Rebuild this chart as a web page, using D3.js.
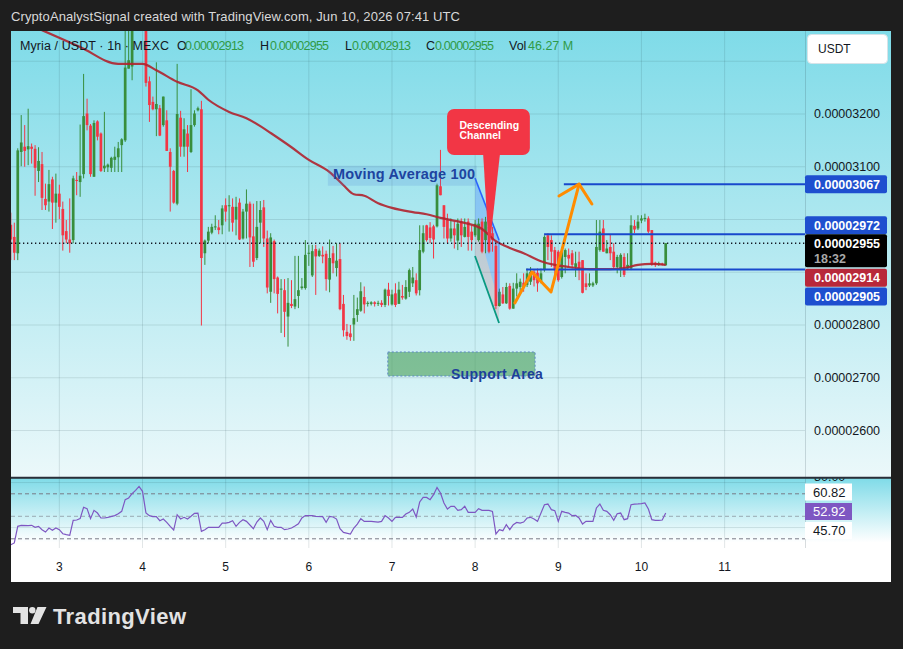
<!DOCTYPE html>
<html><head><meta charset="utf-8">
<script src="https://cdn.jsdelivr.net/npm/d3@7"></script>
<style>html,body{margin:0;padding:0;background:#1e1e1e;overflow:hidden}</style>
</head><body>
<svg id="c" width="903" height="649"></svg>
<script>
// ---------- DATA (prices in units of 1e-8 USDT) ----------
const UNIT = 1e-8;
const startTime = "2026-06-02T10:00:00Z"; // first hourly candle
const opens = [2990,2967,2936,3128,3138,3133,3138,3134,3092,3105, 3039,3034,3076,3032,3049,3020,2978,2962,2961,3075,
 3071,3086,3201,3178,3081,3186,3163,3097,3099,3098, 3113,3118,3141,3150,3286,3290,3370,3405,3392,3378,
 3262,3223,3209,3211,3179,3188,3128,3092,3030,3193, 3138,3163,3128,3179,3207,3209,2936,2960,2975,2985,
 2985,2989,3027,3026,3024,3000,3032,2964,3015,3030, 2968,2927,2994,3023,2964,2863,2959,2890,2867,2866,
 2816,2840,2835,2855,2870,2870,2935,2894,2944,2931, 2933,2935,2886,2936,2908,2925,2840,2787,2784,2801,
 2819,2827,2853,2840,2840,2843,2840,2842,2838,2867, 2839,2860,2840,2855,2850,2863,2879,2885,2866,2939,
 2989,2985,2987,2987,3063,3027,2999,2964,2983,2960, 2996,2967,2996,2977,2970,2961,2996,2961,2986,2974,
 2950,2836,2858,2841,2874,2831,2869,2872,2880,2876, 2882,2901,2899,2882,2904,2970,2961,2942,2939,2891,
 2929,2933,2936,2910,2920,2923,2879,2875,2875,2879, 2942,2983,2936,2948,2939,2910,2904,2929,2907,2907,
 2988,2983,2998,3001,3002,2980,2918,2914,2916,2913];
const highs = [3013,2994,3135,3198,3179,3210,3144,3141,3137,3128, 3068,3094,3081,3087,3066,3034,2999,3040,3083,3090,
 3180,3276,3229,3181,3188,3188,3165,3204,3106,3119, 3138,3147,3154,3370,3380,3395,3425,3440,3415,3385,
 3271,3233,3298,3217,3233,3207,3135,3094,3295,3206, 3192,3179,3247,3207,3214,3225,2962,2986,2992,3008,
 2999,3027,3040,3046,3040,3043,3040,3020,3057,3034, 3030,3035,3035,3037,2979,2974,2962,2892,2887,2887,
 2889,2885,2931,2931,2889,2961,2952,2952,2952,2945, 2949,2941,2962,2950,2955,2955,2857,2802,2800,2857,
 2852,2881,2873,2845,2845,2845,2846,2847,2869,2880, 2867,2879,2882,2876,2885,2907,2910,2898,2989,2989,
 2990,2995,2990,3068,3132,3027,3011,3002,2996,3002, 3002,3002,3002,2989,2999,3002,3002,3005,2996,2986,
 2958,2869,2872,2880,2879,2880,2898,2888,2898,2907, 2910,2904,2907,2907,2970,2974,2970,2948,2942,2948,
 2945,2945,2942,2939,2939,2923,2898,2898,2882,2999, 2999,2999,2961,2971,2955,2933,2936,2936,2936,3008,
 2999,3008,3008,3011,3006,2980,2920,2920,2918,2955];
const lows = [2923,2923,2923,3101,3100,3103,3106,3045,3071,3018, 3018,3015,2982,2994,3001,2941,2955,2937,2955,3046,
 3043,3078,3169,3081,3081,3150,3090,3090,3090,3090, 3090,3090,3090,3147,3286,3264,3362,3380,3370,3252,
 3185,3207,3158,3158,3176,3130,3015,3030,3027,3119, 3119,3090,3126,3176,3205,2799,2914,2955,2972,2980,
 2972,2972,2996,2977,2977,2970,2961,2962,2964,2910, 2910,2923,2955,2948,2860,2842,2860,2822,2785,2777,
 2759,2832,2830,2832,2867,2867,2912,2891,2857,2929, 2917,2865,2862,2898,2892,2828,2778,2772,2770,2770,
 2806,2825,2822,2835,2837,2835,2836,2834,2834,2837, 2837,2834,2840,2848,2848,2853,2872,2856,2856,2936,
 2958,2955,2926,2985,3046,2964,2955,2958,2945,2942, 2948,2966,2941,2941,2967,2958,2936,2936,2936,2939,
 2830,2835,2840,2840,2829,2831,2854,2863,2863,2872, 2876,2873,2863,2879,2901,2923,2910,2885,2882,2888,
 2898,2910,2907,2891,2885,2860,2866,2872,2872,2876, 2939,2939,2936,2923,2904,2898,2891,2891,2904,2904,
 2974,2980,2993,2996,2974,2912,2910,2912,2913,2913];
const closes = [2962,2937,3131,3146,3130,3139,3134,3098,3111,3041, 3027,3067,3032,3049,3024,2970,2962,2955,3078,3073,
 3083,3196,3179,3086,3183,3157,3092,3102,3104,3117, 3119,3135,3152,3288,3302,3370,3405,3392,3378,3259,
 3217,3209,3219,3159,3233,3130,3100,3032,3200,3138, 3171,3138,3179,3201,3211,2927,2960,2977,2986,2987,
 2980,3021,3015,3027,2994,3024,2962,3015,3030,2966, 2920,2986,3018,2964,2871,2966,2887,2859,2869,2825,
 2842,2836,2849,2866,2873,2933,2937,2940,2930,2941, 2930,2887,2927,2917,2922,2830,2790,2779,2777,2813,
 2830,2864,2839,2842,2843,2840,2842,2838,2867,2855, 2858,2838,2867,2852,2872,2904,2890,2860,2942,2974,
 2961,2965,2962,3065,3046,2986,2964,2983,2970,2992, 2970,2986,2967,2961,2992,2992,2939,2996,2939,2961,
 2836,2863,2841,2872,2831,2869,2879,2882,2872,2898, 2901,2885,2879,2898,2967,2948,2939,2904,2885,2939,
 2942,2926,2914,2917,2904,2861,2872,2879,2879,2948, 2977,2939,2945,2936,2910,2929,2933,2895,2914,2989,
 2981,2996,3002,3003,2977,2914,2914,2917,2914,2955];
// Moving average 100 (candle index, value)
const maIdx = [0,9,20,31,38,42,48,54,57,63,68,72,75,81,86,92,96,99,102,106,110,116,120,124,130,136,140,144,148,153,157,161,167,173,177,181,185,189];
const maVal = [3385,3359,3327,3295,3295,3283,3261,3245,3227,3204,3192,3177,3164,3137,3113,3090,3065,3048,3045,3031,3022,3014,3010,3003,2995,2982,2959,2946,2936,2921,2914,2910,2906,2906,2908,2914,2916,2914];
// RSI (candle index, value)
const rsiIdx = [0,1,2,3,5,6,7,8,9,10,11,12,13,14,15,16,17,18,19,20,21,22,23,24,25,26,27,28,30,31,32,33,34,35,36,37,38,39,40,41,42,43,44,45,46,47,48,49,50,51,52,53,54,55,56,57,58,60,61,62,63,64,65,66,67,68,70,71,72,73,74,75,76,77,78,79,80,81,82,83,84,85,86,87,88,90,91,92,93,94,95,96,98,99,100,101,102,104,106,107,108,109,110,111,113,114,115,116,117,118,119,120,121,122,123,124,125,126,127,128,129,130,131,132,134,135,136,138,139,140,141,142,143,144,145,146,147,148,149,150,151,152,154,155,156,157,158,159,160,161,162,163,164,165,166,167,168,169,170,171,172,173,174,175,176,177,178,179,180,181,182,183,184,185,186,187,188,189];
const rsiVal = [24.8,26.3,41.1,42,41.7,42,40.2,41.1,38.1,36,39.6,37.5,39.6,38.1,34.5,33.7,33.1,46.4,46.7,47.9,58,56.8,47.9,55.3,52.9,48.5,48.5,49.1,50.6,52.3,54.4,64.8,66.3,70.1,73.1,76.6,72.2,52.9,50.6,49.7,49.7,46.1,47.6,44.6,41.1,37.8,51.4,47.6,49.1,47.6,50,52.6,52.9,36.6,38.1,40.2,40.2,40.2,44,44,44.6,46.1,41.1,44.6,47,45.5,39,44.9,48.5,45.5,38.1,46.4,41.1,40.2,40.2,38.1,38.7,39.6,41.4,43.4,48.5,50.6,50.6,50.6,50,49.7,44.6,50,49.4,47.5,39,35.7,34.3,39.6,43.1,47.9,45.5,45.5,44.9,45.5,50.6,48.5,45.5,49.1,49.1,52,53.5,56.5,49.4,62.7,66.8,66.8,64.8,69.2,75.7,70.7,61.8,56.5,58.9,58.9,55.3,55.9,58.9,53.5,53.5,56.8,55.3,55.3,54.4,34.3,38.1,37.2,42.6,38.1,42.6,44.6,44,44.9,48.5,49.1,47.6,45.5,60.3,60.9,55.9,55,45.5,54.4,53.5,52.9,50.6,50.8,48.5,43.1,45.5,45.5,45.5,57.4,60.9,55.3,54.4,51.4,46.4,52.3,52.9,47,47.9,60.3,60.9,61,61.2,61.8,56.5,47,46.4,46.4,46.7,52.92];
const priceTicks = [3300,3200,3100,3000,2900,2800,2700,2600];
const dayTicks = [3,4,5,6,7,8,9,10,11];
const rsiBands = [70,50,30];
const rsiGrid = [80,40];
const levelValues = [3067,2972,2905];
const levelStartIdx = [159.6,153.9,148.7];
const maLast = 2914;
const rsiLabels = [{v:"60.82",kind:"w"},{v:"52.92",kind:"p"},{v:"45.70",kind:"w"}];
const volume = "46.27";

// ---------- LAYOUT ----------
const svg = d3.select('#c');
const FONT = "'Liberation Sans', Arial, sans-serif";
const PL=11, PR=805, AR=891, PT=31, PB=477, RT=478.5, RB=548, TB=582;
const HOUR = 3600e3;
const t0 = Date.parse(startTime);
const N = closes.length;
const tOf = i => new Date(t0 + i*HOUR);
const xs = d3.scaleUtc().domain([tOf(0), tOf(N-1)]).range([10.835, 665.7]);
const xi = i => xs(tOf(i));
const yp = d3.scaleLinear().domain([3200,2600]).range([114,430.5]);
const yr = d3.scaleLinear().domain([70,30]).range([493.8,538.8]);
const fmtP = v => (v*UNIT).toFixed(8);

svg.append('rect').attr('width',903).attr('height',649).attr('fill','#1e1e1e');
const defs = svg.append('defs');
function grad(id, stops){ const g=defs.append('linearGradient').attr('id',id).attr('x1',0).attr('y1',0).attr('x2',0).attr('y2',1);
  stops.forEach(s=>g.append('stop').attr('offset',s[0]).attr('stop-color',s[1])); }
grad('gMain',[['0%','#7fdbe8'],['100%','#ebf8fa']]);
grad('gRsi',[['0%','#80dbe8'],['92%','#ffffff'],['100%','#ffffff']]);
defs.append('clipPath').attr('id','cpMain').append('rect').attr('x',PL).attr('y',PT).attr('width',PR-PL).attr('height',PB-PT);
defs.append('clipPath').attr('id','cpRsi').append('rect').attr('x',PL).attr('y',RT).attr('width',PR-PL).attr('height',RB-RT);
defs.append('clipPath').attr('id','cpRsiAx').append('rect').attr('x',PR).attr('y',RT).attr('width',AR-PR).attr('height',RB-RT);

svg.append('rect').attr('x',PL).attr('y',PT).attr('width',AR-PL).attr('height',PB-PT).attr('fill','url(#gMain)');
svg.append('rect').attr('x',PL).attr('y',RT).attr('width',AR-PL).attr('height',RB-RT).attr('fill','url(#gRsi)');
svg.append('rect').attr('x',PL).attr('y',RB).attr('width',AR-PL).attr('height',TB-RB).attr('fill','#ffffff');

// grid
const gridC = 'rgba(30,60,70,0.13)';
const gMain = svg.append('g').attr('clip-path','url(#cpMain)');
const dayDates = dayTicks.map(d=>new Date(Date.UTC(2026,5,d)));
gMain.selectAll('.vg').data(dayDates).join('line').attr('x1',d=>xs(d)).attr('x2',d=>xs(d)).attr('y1',PT).attr('y2',PB).attr('stroke',gridC);
gMain.selectAll('.hg').data(priceTicks).join('line').attr('x1',PL).attr('x2',PR).attr('y1',d=>yp(d)).attr('y2',d=>yp(d)).attr('stroke',gridC);
const gR = svg.append('g').attr('clip-path','url(#cpRsi)');
gR.selectAll('.vg').data(dayDates).join('line').attr('x1',d=>xs(d)).attr('x2',d=>xs(d)).attr('y1',RT).attr('y2',RB).attr('stroke',gridC);
gR.selectAll('.hg').data(rsiGrid).join('line').attr('x1',PL).attr('x2',PR).attr('y1',d=>yr(d)).attr('y2',d=>yr(d)).attr('stroke',gridC);

// ---------- annotations under candles ----------
const xI = i => xi(i);
const sa = {i0:108.8, i1:151.3, p0:2748.8, p1:2703.3};
gMain.append('rect').attr('x',xI(sa.i0)).attr('y',yp(sa.p0)).attr('width',xI(sa.i1)-xI(sa.i0)).attr('height',yp(sa.p1)-yp(sa.p0))
  .attr('fill','rgba(76,160,90,0.62)').attr('stroke','#5b86c6').attr('stroke-dasharray','2,2');
const chA=[133.96,3078.7], chB=[140.9,2961.1], chE=[140.9,2841.7], chF=[133.96,3002.8], chD=[140.9,2803.8], chC=[133.96,2930.8];
const pt = d => [xI(d[0]), yp(d[1])];
gMain.append('polygon').attr('points',[chA,chB,chE,chF].map(pt).join(' ')).attr('fill','rgba(41,98,255,0.25)');
gMain.append('polygon').attr('points',[chF,chE,chD,chC].map(pt).join(' ')).attr('fill','rgba(242,54,69,0.16)');

// ---------- candles ----------
const UP='#388e3c', DN='#f23645';
const cg = gMain.append('g');
const idx = d3.range(N);
cg.selectAll('.w').data(idx).join('line')
  .attr('x1',i=>xi(i)).attr('x2',i=>xi(i)).attr('y1',i=>yp(highs[i])).attr('y2',i=>yp(lows[i]))
  .attr('stroke',i=>closes[i]>=opens[i]?UP:DN).attr('stroke-width',1);
cg.selectAll('.b').data(idx).join('rect')
  .attr('x',i=>xi(i)-1.35).attr('width',2.7)
  .attr('y',i=>Math.min(yp(opens[i]),yp(closes[i])))
  .attr('height',i=>Math.max(1,Math.abs(yp(opens[i])-yp(closes[i]))))
  .attr('fill',i=>closes[i]>=opens[i]?UP:DN);

// MA100
const maPts = maIdx.map((d,k)=>[d,maVal[k]]);
gMain.append('path').attr('d',d3.line().x(d=>xi(d[0])).y(d=>yp(d[1])).curve(d3.curveMonotoneX)(maPts))
  .attr('fill','none').attr('stroke','#b0222e').attr('stroke-width',2.2).attr('stroke-opacity',0.9);

// channel lines
gMain.append('line').attr('x1',pt(chA)[0]).attr('y1',pt(chA)[1]).attr('x2',pt(chB)[0]).attr('y2',pt(chB)[1]).attr('stroke','#2962ff').attr('stroke-width',1.6);
gMain.append('line').attr('x1',pt(chB)[0]).attr('y1',pt(chB)[1]).attr('x2',pt(chE)[0]).attr('y2',pt(chE)[1]).attr('stroke','rgba(41,98,255,0.55)').attr('stroke-width',1.2);
gMain.append('line').attr('x1',pt(chC)[0]).attr('y1',pt(chC)[1]).attr('x2',pt(chD)[0]).attr('y2',pt(chD)[1]).attr('stroke','#089981').attr('stroke-width',1.8);

// level lines
gMain.selectAll('.lv').data(levelValues).join('line')
  .attr('x1',(d,k)=>xI(levelStartIdx[k])).attr('x2',PR).attr('y1',d=>yp(d)).attr('y2',d=>yp(d))
  .attr('stroke','#1848cc').attr('stroke-width',2);

// orange path + arrow
const orange = [[145.5,2842],[150.4,2900.5],[155.9,2862.6],[164.0,3067]];
const arrowHead = [[158.2,3044.5],[164.0,3067],[167.7,3029.4]];
const ol = d3.line().x(d=>xI(d[0])).y(d=>yp(d[1]));
gMain.append('path').attr('d',ol(orange)).attr('fill','none').attr('stroke','#ff8c00').attr('stroke-width',3).attr('stroke-linejoin','round').attr('stroke-linecap','round');
gMain.append('path').attr('d',ol(arrowHead)).attr('fill','none').attr('stroke','#ff8c00').attr('stroke-width',3).attr('stroke-linejoin','round').attr('stroke-linecap','round');

// current price dotted line
gMain.append('line').attr('x1',PL).attr('x2',PR).attr('y1',yp(closes[N-1])).attr('y2',yp(closes[N-1]))
  .attr('stroke','#131722').attr('stroke-width',1.3).attr('stroke-dasharray','1.3,2.7');

// Moving Average label
const maLbl = {i0:91.5, i1:134.5, p0:3102, p1:3064};
gMain.append('rect').attr('x',xI(maLbl.i0)).attr('y',yp(maLbl.p0)).attr('width',xI(maLbl.i1)-xI(maLbl.i0)).attr('height',yp(maLbl.p1)-yp(maLbl.p0))
  .attr('fill','rgba(70,130,210,0.18)');
gMain.append('text').attr('x',xI(93)).attr('y',yp(3077)).text('Moving Average 100')
  .attr('font-family',FONT).attr('font-size',14.5).attr('font-weight','bold').attr('fill','#1d44a0').attr('textLength',142);
gMain.append('text').attr('x',xI(127)).attr('y',yp(2698)).text('Support Area')
  .attr('font-family',FONT).attr('font-size',14).attr('font-weight','bold').attr('fill','#1d3f9a').attr('textLength',92);

// Descending channel callout
const co = {i0:125.9, i1:149.8, p0:3209.5, p1:3122.3, b0:136.3, b1:141.2, tipI:138.0, tipP:2938.4};
gMain.append('polygon').attr('points',[[xI(co.b0),yp(co.p1)-2],[xI(co.b1),yp(co.p1)-2],[xI(co.tipI),yp(co.tipP)]].map(d=>d.join(',')).join(' ')).attr('fill','#f23645');
gMain.append('rect').attr('x',xI(co.i0)).attr('y',yp(co.p0)).attr('width',xI(co.i1)-xI(co.i0)).attr('height',yp(co.p1)-yp(co.p0))
  .attr('rx',7).attr('fill','#f23645');
gMain.append('text').attr('x',xI(129.5)).attr('y',yp(3172)).text('Descending').attr('font-family',FONT).attr('font-size',10.5).attr('font-weight','bold').attr('fill','#fff');
gMain.append('text').attr('x',xI(129.5)).attr('y',yp(3152)).text('Channel').attr('font-family',FONT).attr('font-size',10.5).attr('font-weight','bold').attr('fill','#fff');

// ---------- RSI pane ----------
gR.selectAll('.band').data(rsiBands).join('line').attr('x1',PL).attr('x2',PR).attr('y1',d=>yr(d)).attr('y2',d=>yr(d))
  .attr('stroke',d=>d===50?'rgba(120,123,134,0.6)':'#787b86').attr('stroke-dasharray','4,3').attr('stroke-width',1);
const rsiPts = rsiIdx.map((d,k)=>[d,rsiVal[k]]);
gR.append('path').attr('d',d3.line().x(d=>xi(d[0])).y(d=>yr(d[1]))(rsiPts)).attr('fill','none').attr('stroke','#7e57c2').attr('stroke-width',1.2);

// separators
svg.append('line').attr('x1',PL).attr('x2',AR).attr('y1',477.6).attr('y2',477.6).attr('stroke','#2a2e39').attr('stroke-width',1.6);
svg.append('line').attr('x1',PR+0.5).attr('x2',PR+0.5).attr('y1',PT).attr('y2',RB).attr('stroke','rgba(40,60,70,0.18)');

// ---------- price axis ----------
const ax = svg.append('g').attr('font-family',FONT);
const cy = yp(closes[N-1]);
// boxes drawn over the axis (top, height)
const boxes = [
  {y: yp(levelValues[0])-9, h:18, fill:'#1e4fcf', t:fmtP(levelValues[0])},
  {y: yp(levelValues[1])-18, h:18, fill:'#1e4fcf', t:fmtP(levelValues[1])},
  {y: yp(maLast)+4, h:18, fill:'#b8283a', t:fmtP(maLast)},
  {y: yp(levelValues[2])+18, h:18, fill:'#1e4fcf', t:fmtP(levelValues[2])}
];
const occupied = boxes.map(b=>[b.y,b.y+b.h]).concat([[cy-9,cy+24],[34,64]]);
const freeTicks = priceTicks.filter(v=>{const y=yp(v); return !occupied.some(o=>y+6>o[0] && y-6<o[1]);});
ax.selectAll('.pt').data(freeTicks).join('text').attr('x',814).attr('y',d=>yp(d)).attr('dy','0.35em')
  .text(d=>fmtP(d)).attr('font-size',12.5).attr('fill','#131722');
ax.append('rect').attr('x',807.5).attr('y',34.5).attr('width',80).attr('height',29).attr('rx',4).attr('fill','#fff').attr('stroke','#d6e3e8');
ax.append('text').attr('x',818).attr('y',49).attr('dy','0.35em').text('USDT').attr('font-size',12).attr('fill','#131722');
boxes.forEach(b=>{
  ax.append('rect').attr('x',805).attr('y',b.y).attr('width',82).attr('height',b.h).attr('rx',2).attr('fill',b.fill);
  ax.append('text').attr('x',814).attr('y',b.y+b.h/2).attr('dy','0.35em').text(b.t).attr('font-size',12.5).attr('font-weight','bold').attr('fill','#fff');
});
ax.append('rect').attr('x',805).attr('y',cy-9).attr('width',82).attr('height',33).attr('rx',2).attr('fill','#000');
ax.append('text').attr('x',814).attr('y',cy).attr('dy','0.35em').text(fmtP(closes[N-1])).attr('font-size',12.5).attr('font-weight','bold').attr('fill','#fff');
ax.append('text').attr('x',814).attr('y',cy+15).attr('dy','0.35em').text('18:32').attr('font-size',12.5).attr('font-weight','bold').attr('fill','#a8a8a8');

// RSI axis labels
const rax = svg.append('g').attr('font-family',FONT);
rax.append('g').attr('clip-path','url(#cpRsiAx)').append('text').attr('x',814).attr('y',477).attr('dy','0.35em').text('80.00').attr('font-size',12.5).attr('fill','#131722');
const rl = [{y:492, t:rsiLabels[0]},{y:511.5,t:rsiLabels[1]},{y:530.5,t:rsiLabels[2]}];
rl.forEach(o=>{
  rax.append('rect').attr('x',805).attr('y',o.y-8.5).attr('width',47).attr('height',17).attr('fill',o.t.kind==='p'?'#7e57c2':'#fff');
  rax.append('text').attr('x',813).attr('y',o.y).attr('dy','0.35em').text(o.t.v).attr('font-size',13).attr('fill',o.t.kind==='p'?'#fff':'#131722');
});

// ---------- time axis ----------
svg.append('g').attr('font-family',FONT).selectAll('text').data(dayDates).join('text')
  .attr('x',d=>xs(d)).attr('y',567).attr('dy','0.35em').attr('text-anchor','middle')
  .text(d=>d3.utcFormat('%-d')(d)).attr('font-size',12).attr('fill','#131722');

// ---------- header & legend ----------
svg.append('text').attr('x',11).attr('y',16).attr('dy','0.35em').text('CryptoAnalystSignal created with TradingView.com, Jun 10, 2026 07:41 UTC')
  .attr('font-family',FONT).attr('font-size',13).attr('fill','#d9d9d9').attr('textLength',449);
const lg = svg.append('g').attr('font-family',FONT).attr('font-size',12.5);
const ly = 46;
lg.append('text').attr('x',20).attr('y',ly).attr('dy','0.35em').text('Myria / USDT · 1h · MEXC').attr('fill','#131722').attr('textLength',149);
const GREEN='#2f9a47';
const ohlc = [['O',177,185,opens[N-1]],['H',260,270,highs[N-1]],['L',345,352,lows[N-1]],['C',426,435,closes[N-1]]];
ohlc.forEach(o=>{
  lg.append('text').attr('x',o[1]).attr('y',ly).attr('dy','0.35em').text(o[0]).attr('fill','#131722');
  lg.append('text').attr('x',o[2]).attr('y',ly).attr('dy','0.35em').text(fmtP(o[3])).attr('fill',GREEN).attr('textLength',59);
});
lg.append('text').attr('x',509).attr('y',ly).attr('dy','0.35em').text('Vol').attr('fill','#131722');
lg.append('text').attr('x',528).attr('y',ly).attr('dy','0.35em').text(volume+' M').attr('fill',GREEN);

// ---------- TradingView logo ----------
const logo = svg.append('g').attr('fill','#e3e3e3');
logo.append('path').attr('d','M13,607 H28 V624 H20.5 V613 H13 Z');
logo.append('circle').attr('cx',32.3).attr('cy',610.3).attr('r',3.2);
logo.append('path').attr('d','M37.5,607 H46.5 L38.5,624 H30.5 Z');
logo.append('text').attr('x',53).attr('y',624).text('TradingView').attr('font-family',FONT).attr('font-size',22).attr('font-weight','bold').attr('textLength',133);
</script>
</body></html>
